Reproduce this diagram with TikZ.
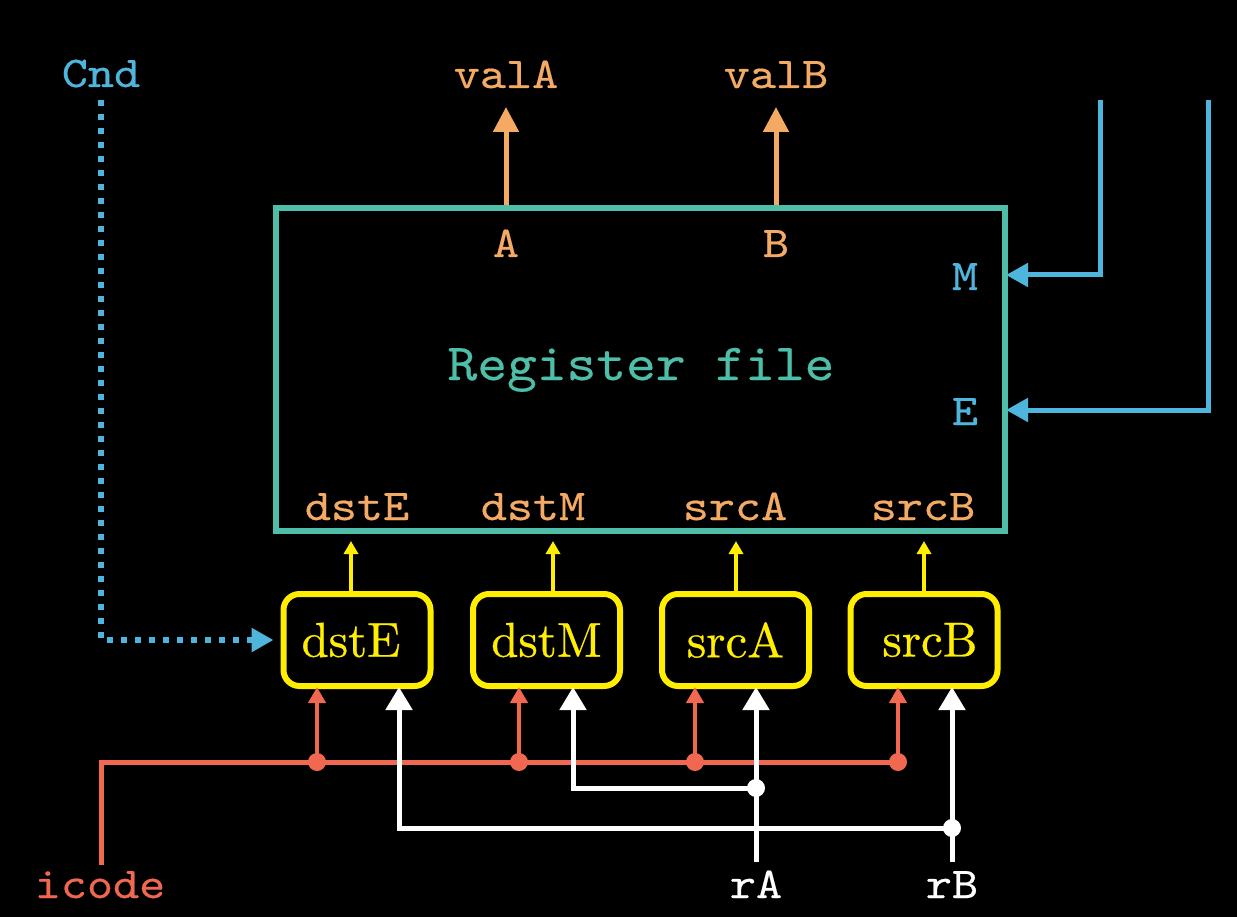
\documentclass[tikz,border=0pt]{standalone}
\usepackage{fontspec}
\newfontfamily\mytt{lmmono10-regular.otf}[FakeStretch=1.13,FakeBold=0.4]
\newfontfamily\mybigtt{lmmono10-regular.otf}[FakeStretch=1.09,FakeBold=0.4]
\newfontfamily\myrm{lmroman10-regular.otf}[FakeBold=0.6]
\usetikzlibrary{arrows.meta}
\definecolor{tealc}{RGB}{78,190,168}
\definecolor{orgc}{RGB}{245,170,100}
\definecolor{bluc}{RGB}{78,182,220}
\definecolor{yelc}{RGB}{255,238,0}
\definecolor{redc}{RGB}{240,104,80}
\tikzset{
  ttl/.style={font=\mytt\fontsize{44}{48}\selectfont, inner sep=0pt, anchor=base},
  bigtt/.style={font=\mybigtt\fontsize{52}{56}\selectfont, inner sep=0pt, anchor=base, text=tealc},
  rfbox/.style={draw=tealc, line width=6pt, minimum width=729pt, minimum height=323pt, inner sep=0pt},
  ybox/.style={draw=yelc, line width=6pt, rounded corners=16pt, minimum width=147pt, minimum height=92pt, inner sep=0pt, text=yelc, font=\myrm\fontsize{49}{53}\selectfont},
  oarr/.style={draw=orgc, line width=5pt, -{Triangle[length=25pt,width=25pt]}},
  barr/.style={draw=bluc, line width=5pt, -{Triangle[length=22pt,width=23pt]}},
  bdot/.style={draw=bluc, line width=6pt, dash pattern=on 6pt off 8pt, -{Triangle[length=22pt,width=23pt]}},
  yarr/.style={draw=yelc, line width=3.5pt, -{Triangle[length=13pt,width=14pt]}},
  rline/.style={draw=redc, line width=5pt},
  rarr/.style={draw=redc, line width=4pt, -{Triangle[length=16pt,width=17pt]}},
  warr/.style={draw=white, line width=5pt, -{Triangle[length=23pt,width=26pt]}},
  rdot/.style={circle, fill=redc, minimum size=18pt, inner sep=0pt},
  wdot/.style={circle, fill=white, minimum size=18pt, inner sep=0pt},
}
\begin{document}
\begin{tikzpicture}[x=1pt,y=-1pt]
\fill[black] (0,0) rectangle (1237,917);
\useasboundingbox (0,0) rectangle (1237,917);

% register file
\node[rfbox] (rf) at (640.5,369.5) {};
\node[bigtt] (rft) at (641,380) {Register file};
\node[ttl,text=orgc] (pA) at (506,257) {A};
\node[ttl,text=orgc] (pB) at (776,257) {B};
\node[ttl,text=bluc] (pM) at (965,290) {M};
\node[ttl,text=bluc] (pE) at (965,425) {E};
\node[ttl,text=orgc] (pdE) at (357,520) {dstE};
\node[ttl,text=orgc] (pdM) at (533,520) {dstM};
\node[ttl,text=orgc] (psA) at (735,520) {srcA};
\node[ttl,text=orgc] (psB) at (923,520) {srcB};

% outputs
\node[ttl,text=orgc] (valA) at (506,88) {valA};
\node[ttl,text=orgc] (valB) at (776,88) {valB};
\coordinate (tA) at (506,107);
\coordinate (tB) at (776,107);
\draw[oarr] (rf.north -| tA) -- (tA);
\draw[oarr] (rf.north -| tB) -- (tB);

% M and E inputs
\coordinate (m0) at (1100,100);
\coordinate (e0) at (1208,100);
\coordinate (mrow) at (0,275);
\coordinate (erow) at (0,410);
\draw[barr, shorten >=-2pt] (m0) |- (rf.east |- mrow);
\draw[barr, shorten >=-2pt] (e0) |- (rf.east |- erow);

% yellow boxes
\node[ybox] (bE) at (357,640) {\hspace*{-12pt}dstE};
\node[ybox] (bM) at (546.5,640) {dstM};
\node[ybox] (bA) at (735.5,640) {srcA};
\node[ybox] (bB) at (924,640) {srcB\hspace*{-12pt}};

\coordinate (yE) at (351,0);
\coordinate (yM) at (553,0);
\coordinate (yA) at (736,0);
\coordinate (yB) at (924,0);
\draw[yarr, shorten >=7pt] (yE |- bE.north) -- (yE |- rf.south);
\draw[yarr, shorten >=7pt] (yM |- bM.north) -- (yM |- rf.south);
\draw[yarr, shorten >=7pt] (yA |- bA.north) -- (yA |- rf.south);
\draw[yarr, shorten >=7pt] (yB |- bB.north) -- (yB |- rf.south);

% Cnd
\node[ttl,text=bluc] (cnd) at (101,87) {Cnd};
\coordinate (c0) at (101,100);
\draw[bdot, shorten >=7pt] (c0) |- (bE.west);

% icode
\node[ttl,text=redc] (icode) at (100,898) {icode};
\coordinate (r0) at (101,865);
\node[rdot] (j1) at (317,762) {};
\node[rdot] (j2) at (519,762) {};
\node[rdot] (j3) at (695,762) {};
\node[rdot] (j4) at (898,762) {};
\draw[rline] (r0) |- (j4.center);
\draw[rarr, shorten >=-2pt] (j1.center) -- (j1 |- bE.south);
\draw[rarr, shorten >=-2pt] (j2.center) -- (j2 |- bM.south);
\draw[rarr, shorten >=-2pt] (j3.center) -- (j3 |- bA.south);
\draw[rarr, shorten >=-2pt] (j4.center) -- (j4 |- bB.south);

% rA, rB
\node[ttl,text=white] (rA) at (756,898) {rA};
\node[ttl,text=white] (rB) at (952,898) {rB};
\coordinate (a0) at (756,862);
\coordinate (b0) at (952,862);
\coordinate (xm) at (573,0);
\coordinate (xe) at (399,0);
\node[wdot] (ja) at (756,788) {};
\node[wdot] (jb) at (952,828) {};
\draw[warr, shorten >=-2pt] (a0) -- (a0 |- bA.south);
\draw[warr, shorten >=-2pt] (b0) -- (b0 |- bB.south);
\draw[warr, shorten >=-2pt] (ja.center) -| (xm |- bM.south);
\draw[warr, shorten >=-2pt] (jb.center) -| (xe |- bE.south);
\end{tikzpicture}
\end{document}
